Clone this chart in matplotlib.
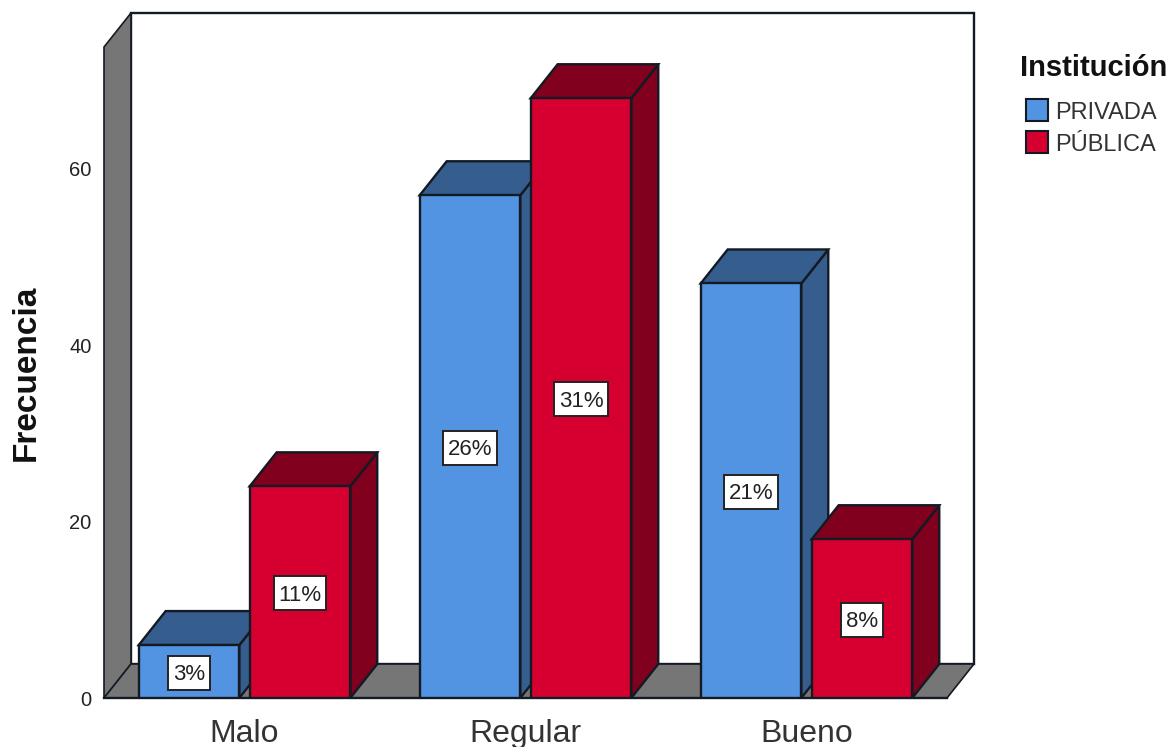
import numpy as np
import matplotlib
matplotlib.use('Agg')
import matplotlib.pyplot as plt
from matplotlib.patches import Polygon, Rectangle
from matplotlib.transforms import IdentityTransform

plt.rcParams['font.family'] = ['Liberation Sans', 'DejaVu Sans']

categories = ['Malo', 'Regular', 'Bueno']
privada = [6, 57, 47]
publica = [24, 68, 18]
privada_pct = ['3%', '26%', '21%']
publica_pct = ['11%', '31%', '8%']
yticks = [0, 20, 40, 60]

W, H = 1169, 747
BLUE = ('#5294E2', '#355D8E')
RED = ('#D5002F', '#80001E')
GRAY = '#767676'
EDGE = '#141a24'
PX = 8.82

DX, DY = 0.096, 34 / PX
BAR_W = 0.358
OFF = 0.1975
LW = 1.7
TXT_DOWN = 3 / PX


def bar3d(ax, x, h, cols, z=3):
    l, r = x - BAR_W / 2, x + BAR_W / 2
    ax.add_patch(Polygon([(r, 0), (r + DX, DY), (r + DX, h + DY), (r, h)], fc=cols[1], ec=EDGE, lw=LW, zorder=z, clip_on=False))
    ax.add_patch(Polygon([(l, h), (l + DX, h + DY), (r + DX, h + DY), (r, h)], fc=cols[1], ec=EDGE, lw=LW, zorder=z, clip_on=False))
    ax.bar(x, h, BAR_W, color=cols[0], edgecolor=EDGE, lw=LW, zorder=z + 0.1)


fig = plt.figure(figsize=(W / 100, H / 100), dpi=100)
ax = fig.add_axes([104 / W, 1 - 698 / H, 843 / W, 651 / H])
top = 651 / PX
ax.set_xlim(-0.5, 2.5)
ax.set_ylim(0, top)

x0, x1 = -0.5, 2.5
# back wall, side wall and floor
ax.add_patch(Polygon([(x0 + DX, DY), (x1 + DX, DY), (x1 + DX, top + DY), (x0 + DX, top + DY)], fc='white', ec=EDGE, lw=LW, clip_on=False, zorder=1))
ax.add_patch(Polygon([(x0, 0), (x0 + DX, DY), (x0 + DX, top + DY), (x0, top)], fc=GRAY, ec=EDGE, lw=1.2, clip_on=False, zorder=1))
ax.add_patch(Polygon([(x0, 0), (x1, 0), (x1 + DX, DY), (x0 + DX, DY)], fc=GRAY, ec=EDGE, lw=1.2, clip_on=False, zorder=1))
ax.plot([x0, x1], [0, 0], color=EDGE, lw=LW, clip_on=False, zorder=2)

xs = np.arange(len(categories))
labels = []
for i in xs:
    bar3d(ax, i - OFF, privada[i], BLUE, z=3)
    bar3d(ax, i + OFF, publica[i], RED, z=4)
    labels.append(ax.text(i - OFF, privada[i] / 2 - TXT_DOWN, privada_pct[i], ha='center', va='center', fontsize=16, color='#222222', zorder=7))
    labels.append(ax.text(i + OFF, publica[i] / 2 - TXT_DOWN, publica_pct[i], ha='center', va='center', fontsize=16, color='#222222', zorder=7))

for s in ax.spines.values():
    s.set_visible(False)
ax.patch.set_visible(False)
ax.set_xticks(xs)
ax.set_xticklabels(categories, fontsize=23, color='#333333')
ax.set_yticks(yticks)
ax.tick_params(axis='x', length=0, pad=15)
ax.tick_params(axis='y', length=0, labelsize=14.5, pad=9, colors='#222222')
fig.text(26 / W, 1 - 373 / H, 'Frecuencia', rotation=90, fontsize=24, fontweight='bold', ha='center', va='center', color='#111111')

# white boxes behind the percent labels, sized in pixels
rend = fig.canvas.get_renderer()
for t in labels:
    bb = t.get_window_extent(rend)
    cx, cy = (bb.x0 + bb.x1) / 2, (bb.y0 + bb.y1) / 2 + 2
    bw = bb.width + 9
    ax.add_patch(Rectangle((cx - bw / 2, cy - 17), bw, 34, transform=IdentityTransform(), fc='white', ec='#222222', lw=1.4, zorder=6, clip_on=False))

# legend
fig.text(1020 / W, 1 - 68 / H, 'Institución', fontsize=21, fontweight='bold', ha='left', va='center', color='#111111')
for py, lab, col in [(110, 'PRIVADA', BLUE[0]), (142, 'PÚBLICA', RED[0])]:
    fig.add_artist(Rectangle((1026 / W, 1 - (py + 11) / H), 22 / W, 22 / H, transform=fig.transFigure, fc=col, ec=EDGE, lw=1.5))
    fig.text(1055 / W, 1 - (py + 3) / H, lab, fontsize=17, ha='left', va='center', color='#333333')

fig.savefig('out.png', dpi=100)
